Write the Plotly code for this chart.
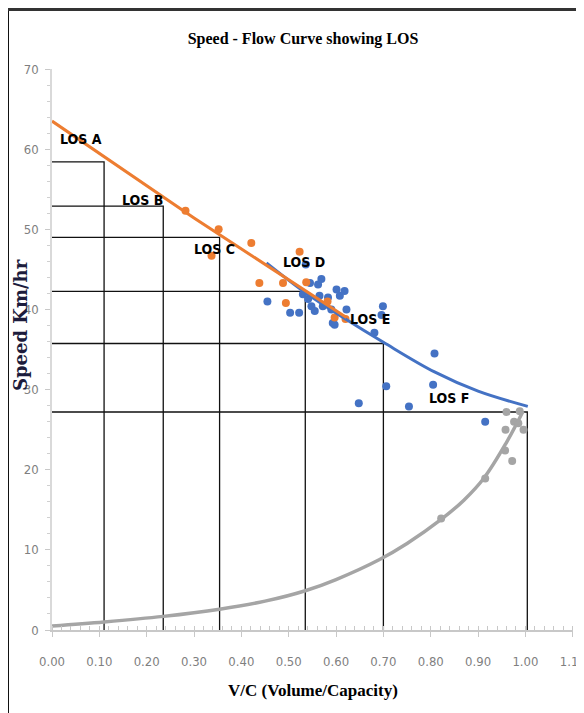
import plotly.graph_objects as go

# ---------------- data ----------------
los_labels = ["LOS A", "LOS B", "LOS C", "LOS D", "LOS E", "LOS F"]
los_vc = [0.11, 0.235, 0.354, 0.535, 0.70, 1.004]          # vertical boundary (V/C)
los_speed = [58.4, 52.9, 49.0, 42.25, 35.75, 27.2]         # horizontal boundary (speed)
los_label_x = [0.061, 0.192, 0.344, 0.532, 0.671, 0.838]
los_label_y = [61.3, 53.6, 47.5, 45.9, 38.8, 29.0]

orange_x = [0.282, 0.352, 0.337, 0.421, 0.438, 0.488, 0.494, 0.523, 0.537, 0.582, 0.597, 0.620]
orange_y = [52.3, 50.0, 46.7, 48.3, 43.3, 43.3, 40.8, 47.2, 43.4, 41.0, 39.0, 38.8]

blue_x = [0.455, 0.503, 0.522, 0.536, 0.541, 0.548, 0.555, 0.562, 0.565, 0.569, 0.572, 0.583,
          0.590, 0.593, 0.601, 0.608, 0.618, 0.622, 0.597, 0.681, 0.699, 0.696, 0.706, 0.648,
          0.754, 0.808, 0.805, 0.915, 0.545, 0.530]
blue_y = [41.0, 39.6, 39.6, 45.6, 41.3, 40.4, 39.8, 43.1, 41.7, 43.8, 40.4, 41.5,
          40.0, 38.3, 42.5, 41.7, 42.3, 40.0, 38.1, 37.1, 40.4, 39.3, 30.4, 28.3,
          27.9, 34.5, 30.6, 26.0, 43.3, 41.9]

gray_x = [0.822, 0.915, 0.957, 0.972, 0.958, 0.960, 0.976, 0.988, 0.996, 0.985]
gray_y = [13.9, 18.9, 22.4, 21.1, 25.0, 27.2, 26.0, 27.3, 25.0, 25.8]

orange_trend_x = [0.0, 0.30, 0.622]
orange_trend_y = [63.5, 51.4, 39.0]

blue_trend_x = [0.453, 0.537, 0.62, 0.70, 0.808, 0.90, 1.005]
blue_trend_y = [45.8, 42.0, 38.8, 35.9, 32.2, 29.8, 27.9]

gray_trend_x = [0.0, 0.11, 0.235, 0.354, 0.45, 0.535, 0.60, 0.692, 0.75, 0.822, 0.87, 0.913, 0.959, 0.995]
gray_trend_y = [0.5, 1.0, 1.7, 2.6, 3.6, 4.9, 6.3, 8.8, 10.8, 13.8, 16.2, 19.0, 23.3, 27.3]

x_ticks = [0.0, 0.1, 0.2, 0.3, 0.4, 0.5, 0.6, 0.7, 0.8, 0.9, 1.0, 1.1]
x_tick_text = ["0.00", "0.10", "0.20", "0.30", "0.40", "0.50", "0.60", "0.70", "0.80", "0.90", "1.00", "1.10"]
y_ticks = [0, 10, 20, 30, 40, 50, 60, 70]

ORANGE = "#ED7D31"
BLUE = "#4472C4"
GRAY = "#A5A5A5"

# plot area (page px): x 52..573, y 69..630 ; page body margin is 8 px
PW, PH = 521, 561

fig = go.Figure()

# LOS boundary lines
lx, ly = [], []
for xv, yv in zip(los_vc, los_speed):
    lx += [0, xv, xv, None]
    ly += [yv, yv, 0, None]
fig.add_trace(go.Scatter(x=lx, y=ly, mode="lines", line=dict(color="#111111", width=1.3),
                         hoverinfo="skip", showlegend=False))

# scatter points
fig.add_trace(go.Scatter(x=blue_x, y=blue_y, mode="markers",
                         marker=dict(color=BLUE, size=8), showlegend=False))
fig.add_trace(go.Scatter(x=gray_x, y=gray_y, mode="markers",
                         marker=dict(color=GRAY, size=8), showlegend=False))
fig.add_trace(go.Scatter(x=orange_x, y=orange_y, mode="markers",
                         marker=dict(color=ORANGE, size=8), showlegend=False))

# trend lines
fig.add_trace(go.Scatter(x=blue_trend_x, y=blue_trend_y, mode="lines", line_shape="spline",
                         line=dict(color=BLUE, width=3), showlegend=False))
fig.add_trace(go.Scatter(x=gray_trend_x, y=gray_trend_y, mode="lines", line_shape="spline",
                         line=dict(color=GRAY, width=3.5), showlegend=False))
fig.add_trace(go.Scatter(x=orange_trend_x, y=orange_trend_y, mode="lines",
                         line=dict(color=ORANGE, width=3), showlegend=False))

label_font = dict(family="Liberation Sans Narrow, DejaVu Sans Condensed, Liberation Sans, sans-serif",
                  size=14, color="#000000")
for t, x, y in zip(los_labels, los_label_x, los_label_y):
    fig.add_annotation(x=x, y=y, text="<b>" + t + "</b>", showarrow=False, font=label_font,
                       xanchor="center", yanchor="middle")

# axis titles
fig.add_annotation(xref="paper", yref="paper", x=(313 - 52) / PW, y=(630 - 690) / PH,
                   text="<b>V/C (Volume/Capacity)</b>", showarrow=False,
                   font=dict(family="Liberation Serif, Times New Roman, serif", size=17, color="#000000"),
                   xanchor="center", yanchor="middle")
fig.add_annotation(xref="paper", yref="paper", x=(20 - 52) / PW, y=(630 - 325) / PH,
                   text="<b>Speed Km/hr</b>", showarrow=False, textangle=-90,
                   font=dict(family="DejaVu Serif, serif", size=18, color="#1c1c3c"),
                   xanchor="center", yanchor="middle")

# frame border (left and top edges of the surrounding box)
fig.add_shape(type="line", xref="paper", yref="paper",
              x0=(8 - 52) / PW, x1=(8 - 52) / PW, y0=(630 - 760) / PH, y1=1 + (69 - 9) / PH,
              line=dict(color="#111111", width=2))
fig.add_shape(type="line", xref="paper", yref="paper",
              x0=(8 - 52) / PW, x1=(640 - 52) / PW, y0=1 + (69 - 9.5) / PH, y1=1 + (69 - 9.5) / PH,
              line=dict(color="#333333", width=3))

tick_font = dict(family="Liberation Sans Narrow, DejaVu Sans Condensed, Liberation Sans, sans-serif",
                 size=13, color="#7f7f7f")

fig.update_layout(
    width=576, height=705,
    margin=dict(l=44, r=11, t=61, b=83),
    paper_bgcolor="white", plot_bgcolor="white",
    title=dict(text="<b>Speed - Flow Curve showing LOS</b>", x=(303 - 52) / PW, xref="paper",
               xanchor="center", y=1 - 30 / 705, yanchor="middle",
               font=dict(family="Liberation Serif, Times New Roman, serif", size=16, color="#000000")),
    xaxis=dict(range=[0, 1.1005], tickvals=x_ticks, ticktext=x_tick_text, showgrid=False, zeroline=False,
               showline=True, linecolor="#c8c8c8", linewidth=1.5, automargin=False,
               ticks="outside", ticklen=5, tickcolor="#c8c8c8", tickwidth=1,
               ticklabelstandoff=14, tickfont=tick_font, ticklabeloverflow="allow",
               minor=dict(dtick=0.02, ticks="inside", ticklen=4, tickcolor="#c8c8c8", showgrid=False)),
    yaxis=dict(range=[0, 70], tickvals=y_ticks, showgrid=False, zeroline=False,
               showline=True, linecolor="#d9d9d9", linewidth=1.5, automargin=False,
               ticks="outside", ticklen=5, tickcolor="#c8c8c8", tickwidth=1,
               ticklabelstandoff=4, tickfont=tick_font,
               minor=dict(dtick=2, ticks="outside", ticklen=3, tickcolor="#d0d0d0", showgrid=False)),
    showlegend=False,
)

fig.write_html("out.html")
